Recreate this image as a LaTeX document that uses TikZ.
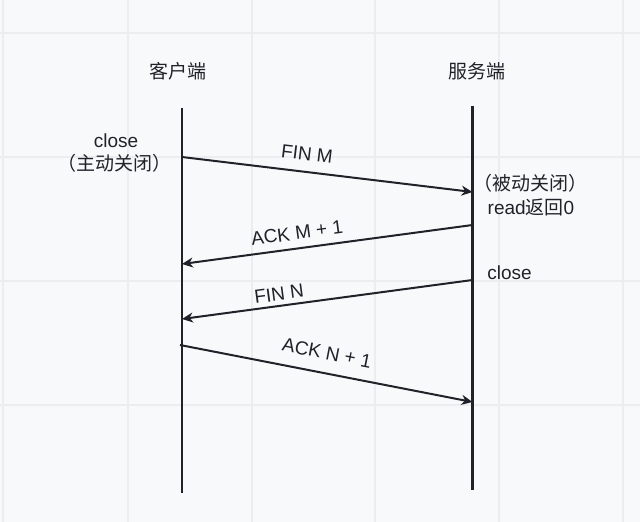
\documentclass[tikz,border=0pt]{standalone}
\usepackage{fontspec}
\setmainfont{Liberation Sans}
\newfontfamily\cjk{Noto Sans CJK SC}
\usetikzlibrary{arrows.meta}
\definecolor{bgc}{HTML}{F8F9FA}
\definecolor{gridc}{HTML}{ECEDEF}
\definecolor{ink}{HTML}{1F2329}
\tikzset{
  lifeline/.style={draw=ink, line width=2.2pt},
  msg/.style={draw=ink, line width=2pt, -{Stealth[length=11pt,width=10pt,inset=3.5pt]}},
  lbl/.style={inner sep=0pt, text=ink, font=\fontsize{19}{23}\selectfont, align=center},
  gridline/.style={draw=gridc, line width=1.5pt}
}
\begin{document}
\begin{tikzpicture}[x=1pt,y=-1pt]
\fill[bgc] (0,0) rectangle (640,522);
\useasboundingbox (0,0) rectangle (640,522);
\foreach \gx in {3,128,252,375,499,623} \draw[gridline] (\gx,0) -- (\gx,522);
\foreach \gy in {33,157,281,405} \draw[gridline] (0,\gy) -- (640,\gy);

% headers
\node[lbl] (client) at (178,71) {\cjk 客户端};
\node[lbl] (server) at (477,71) {\cjk 服务端};

% lifelines
\coordinate (ctop) at (182,108);
\coordinate (cbot) at (182,493);
\coordinate (stop) at (472.5,106);
\coordinate (sbot) at (472.5,490);
\draw[lifeline] (ctop) -- (cbot);
\draw[lifeline] (stop) -- (sbot);

% message endpoints
\coordinate (c1) at (182,157);
\coordinate (s1) at (472.5,192);
\coordinate (s2) at (472.5,225);
\coordinate (c2) at (182,264);
\coordinate (s3) at (472.5,280);
\coordinate (c3) at (182,319);
\coordinate (c4) at (180,345);
\coordinate (s4) at (472.5,402);

\draw[msg] (c1) -- (s1);
\draw[msg] (s2) -- (c2);
\draw[msg] (s3) -- (c3);
\draw[msg] (c4) -- (s4);

% arrow labels
\node[lbl, rotate=-6.9] (l1) at (307,154) {FIN M};
\node[lbl, rotate=7.6] (l2) at (297,233) {ACK M + 1};
\node[lbl, rotate=7.7] (l3) at (279,294) {FIN N};
\node[lbl, rotate=-11] (l4) at (327,353) {ACK N + 1};

% side notes
\node[lbl] (cclose) at (116,141) {close};
\node[lbl] (cact) at (114.5,163) {\cjk （主动关闭）};
\node[lbl] (spass) at (530,183) {\cjk （被动关闭）};
\node[lbl] (sread) at (531,207) {read{\cjk 返回}0};
\node[lbl] (sclose) at (509.5,273) {close};
\end{tikzpicture}
\end{document}
